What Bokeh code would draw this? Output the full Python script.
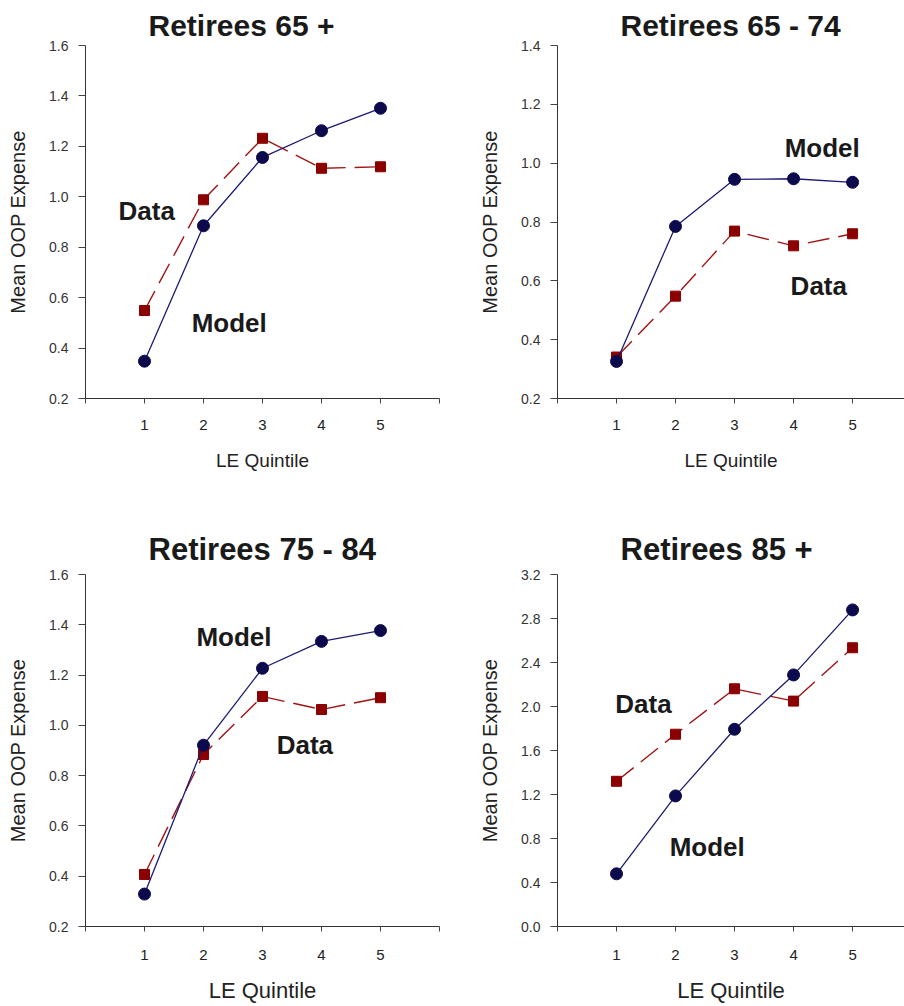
from bokeh.plotting import figure
from bokeh.layouts import column, row
from bokeh.models import FixedTicker, PrintfTickFormatter, Range1d
from bokeh.core.properties import value
from bokeh.embed import file_html
from bokeh.resources import INLINE

quintiles = [1, 2, 3, 4, 5]

titles = ["Retirees 65 +", "Retirees 65 - 74", "Retirees 75 - 84", "Retirees 85 +"]

model_65p = [0.348, 0.885, 1.156, 1.262, 1.351]
data_65p = [0.549, 0.988, 1.232, 1.113, 1.119]

model_6574 = [0.326, 0.785, 0.945, 0.947, 0.935]
data_6574 = [0.341, 0.548, 0.769, 0.719, 0.760]

model_7584 = [0.329, 0.921, 1.227, 1.334, 1.377]
data_7584 = [0.407, 0.884, 1.115, 1.063, 1.110]

model_85p = [0.479, 1.187, 1.793, 2.287, 2.878]
data_85p = [1.320, 1.748, 2.161, 2.049, 2.534]

y_ticks_a = [0.2, 0.4, 0.6, 0.8, 1.0, 1.2, 1.4, 1.6]
y_ticks_b = [0.2, 0.4, 0.6, 0.8, 1.0, 1.2, 1.4]
y_ticks_c = [0.0, 0.4, 0.8, 1.2, 1.6, 2.0, 2.4, 2.8, 3.2]

# label positions (x, y) for "Data" and "Model"
data_lbl = [(0.56, 0.942), (3.95, 0.584), (3.24, 0.92), (0.98, 2.025)]
model_lbl = [(1.80, 0.501), (3.85, 1.053), (1.88, 1.351), (1.90, 0.723)]

MODEL_C = "#0c0a4c"
MODEL_L = "#1c1a72"
DATA_C = "#8b0000"
DATA_L = "#a01414"
FONT = "Liberation Sans"


def make(title, model, data, yr, yticks, dlbl, mlbl, width, height,
         mbl, mbr, mbt, mbb, xend, xlab_size, tsize, tstand, xlstand, xastand):
    p = figure(width=width, height=height, output_backend="svg", toolbar_location=None,
               x_range=Range1d(0, xend), y_range=Range1d(*yr),
               min_border_left=mbl, min_border_right=mbr, min_border_top=mbt,
               min_border_bottom=mbb, title=title)
    p.title.text_font = FONT
    p.title.text_font_size = tsize
    p.title.text_font_style = "bold"
    p.title.text_color = "#1a1a1a"
    p.title.align = "left"
    p.title.offset = 63
    p.title.standoff = tstand
    p.outline_line_color = None
    p.xgrid.visible = False
    p.ygrid.visible = False
    p.background_fill_color = "white"
    p.border_fill_color = "white"

    p.xaxis.ticker = FixedTicker(ticks=[0, 1, 2, 3, 4, 5, 6])
    p.xaxis.major_label_overrides = {0: "", 6: ""}
    p.xaxis.minor_tick_line_color = None
    p.xaxis.major_tick_in = 0
    p.xaxis.major_tick_out = 5
    p.xaxis.major_label_standoff = xlstand
    p.xaxis.axis_label = "LE Quintile"
    p.xaxis.axis_label_text_font = FONT
    p.xaxis.axis_label_text_font_size = xlab_size
    p.xaxis.axis_label_text_font_style = "normal"
    p.xaxis.axis_label_text_color = "#222222"
    p.xaxis.axis_label_standoff = xastand
    p.xaxis.major_label_text_font = FONT
    p.xaxis.major_label_text_font_size = "15px"
    p.xaxis.major_label_text_color = "#222222"

    p.yaxis.ticker = FixedTicker(ticks=yticks)
    p.yaxis.formatter = PrintfTickFormatter(format="%.1f")
    p.yaxis.minor_tick_line_color = None
    p.yaxis.major_tick_in = 0
    p.yaxis.major_tick_out = 7
    p.yaxis.major_label_standoff = 10
    p.yaxis.axis_label = "Mean OOP Expense"
    p.yaxis.axis_label_text_font = FONT
    p.yaxis.axis_label_text_font_size = "20px"
    p.yaxis.axis_label_text_font_style = "normal"
    p.yaxis.axis_label_text_color = "#222222"
    p.yaxis.axis_label_standoff = 17
    p.yaxis.major_label_text_font = FONT
    p.yaxis.major_label_text_font_size = "14px"
    p.yaxis.major_label_text_color = "#333333"

    for ax in (p.xaxis, p.yaxis):
        ax.axis_line_color = "#333333"
        ax.major_tick_line_color = "#444444"

    p.line(quintiles, data, line_color=DATA_L, line_width=1.4, line_dash="22 9")
    p.scatter(quintiles, data, marker="square", size=10, fill_color=DATA_C,
              line_color=DATA_C)
    p.line(quintiles, model, line_color=MODEL_L, line_width=1.3)
    p.scatter(quintiles, model, marker="circle", size=12, fill_color=MODEL_C,
              line_color=MODEL_C)

    p.text([dlbl[0]], [dlbl[1]], text=["Data"], text_font=value(FONT),
           text_font_size="26px", text_font_style="bold", text_color="#1a1a1a",
           text_align="left", text_baseline="middle")
    p.text([mlbl[0]], [mlbl[1]], text=["Model"], text_font=value(FONT),
           text_font_size="26px", text_font_style="bold", text_color="#1a1a1a",
           text_align="left", text_baseline="middle")
    return p


p1 = make(titles[0], model_65p, data_65p, (0.2, 1.6), y_ticks_a, data_lbl[0], model_lbl[0],
          452, 520, 85, 13, 45, 122, 6, "19px", "30px", 8, 16, 17)
p2 = make(titles[1], model_6574, data_6574, (0.2, 1.4), y_ticks_b, data_lbl[1], model_lbl[1],
          452, 520, 105, 0, 45, 122, 5.88, "19px", "30px", 8, 16, 17)
p3 = make(titles[2], model_7584, data_7584, (0.2, 1.6), y_ticks_a, data_lbl[2], model_lbl[2],
          452, 485, 85, 13, 54, 77, 6, "22px", "31px", 15, 18, 15)
p4 = make(titles[3], model_85p, data_85p, (0.0, 3.2), y_ticks_c, data_lbl[3], model_lbl[3],
          452, 485, 105, 0, 54, 77, 5.88, "22px", "31px", 15, 18, 15)

layout = column(row(p1, p2), row(p3, p4))
open("out.html", "w").write(file_html(layout, INLINE))
